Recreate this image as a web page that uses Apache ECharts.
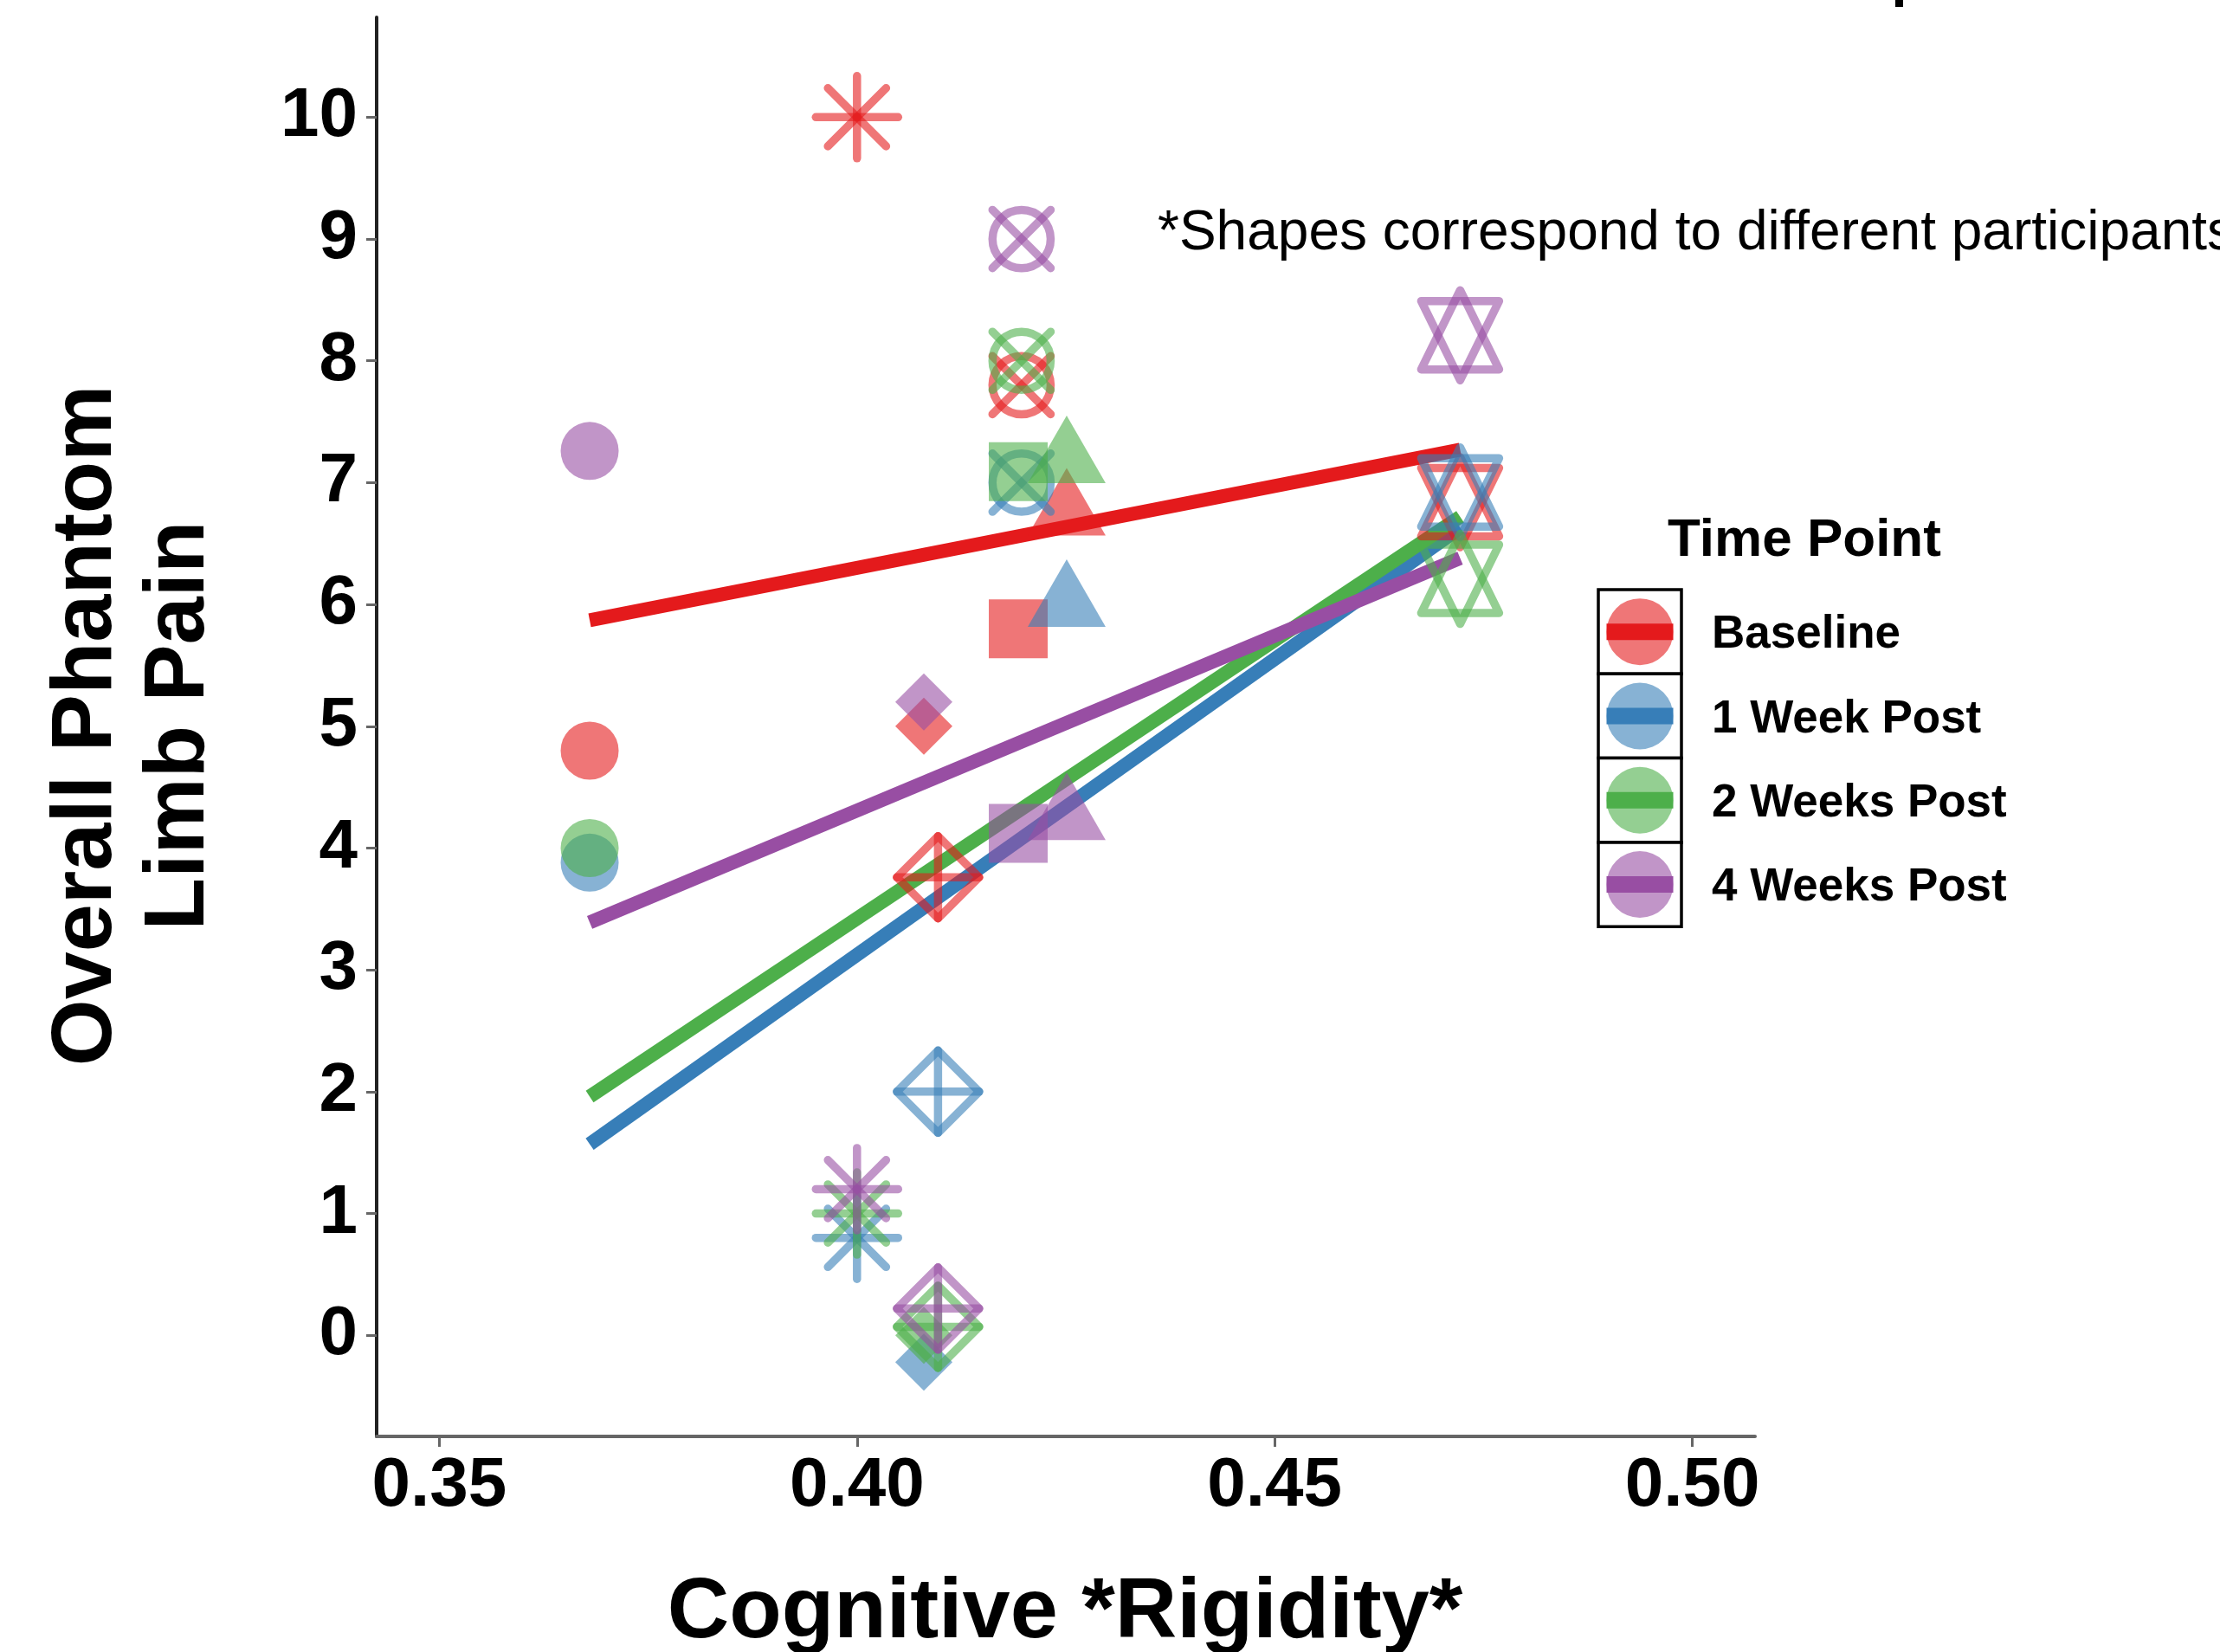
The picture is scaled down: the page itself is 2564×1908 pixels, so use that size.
<!DOCTYPE html>
<html>
<head>
<meta charset="utf-8">
<script src="https://cdn.jsdelivr.net/npm/echarts@6/dist/echarts.min.js"></script>
<style>
html,body{margin:0;padding:0;background:#fff;}
#chart{width:2564px;height:1908px;}
</style>
</head>
<body>
<div id="chart"></div>
<script>
// ---- data ----
const timePoints = ['Baseline', '1 Week Post', '2 Weeks Post', '4 Weeks Post'];
const colors = ['#E41A1C', '#377EB8', '#4DAF4A', '#984EA3'];
// one shape per participant
const participantShapes = ['circle', 'asterisk', 'diamondFilled', 'diamondPlus', 'circleX', 'square', 'triangle', 'star'];
const rigidity = [0.368, 0.400, 0.408, 0.4097, 0.4197, 0.4193, 0.4251, 0.4722];
const painBaseline = [4.80, 10.00, 5.00, 3.76, 7.80, 5.80, 6.75, 6.84];
const painWeek1    = [3.88, 0.80, -0.22, 2.00, 7.00, null, 6.00, 6.92];
const painWeek2    = [4.00, 1.00, 0.00, 0.07, 8.00, 7.09, 7.18, 6.21];
const painWeek4    = [7.26, 1.20, 5.20, 0.22, 9.00, 4.12, 4.25, 8.21];
// fitted (lm) line end points
const fitX = [0.368, 0.4722];
const fitBaseline = [5.87, 7.27];
const fitWeek1    = [1.57, 6.63];
const fitWeek2    = [1.96, 6.72];
const fitWeek4    = [3.39, 6.38];
// axis ticks
const xTicks = [0.35, 0.40, 0.45, 0.50];
const yTicks = [0, 1, 2, 3, 4, 5, 6, 7, 8, 9, 10];

const painSets = [painBaseline, painWeek1, painWeek2, painWeek4];
const fitSets = [fitBaseline, fitWeek1, fitWeek2, fitWeek4];
const FONT = "'Liberation Sans', Arial, Helvetica, sans-serif";

function rgba(hex, a) {
  const n = parseInt(hex.slice(1), 16);
  return 'rgba(' + ((n >> 16) & 255) + ',' + ((n >> 8) & 255) + ',' + (n & 255) + ',' + a + ')';
}

function shapeElements(kind, cx, cy, col) {
  const fill = rgba(col, 0.6);
  const sw = 9.5;
  const strokeStyle = { stroke: fill, lineWidth: sw, lineCap: 'round', lineJoin: 'round', fill: 'none' };
  const line = (x1, y1, x2, y2) => ({ type: 'line', shape: { x1, y1, x2, y2 }, style: Object.assign({}, strokeStyle) });
  const els = [];
  if (kind === 'circle') {
    els.push({ type: 'circle', shape: { cx, cy, r: 33.5 }, style: { fill } });
  } else if (kind === 'square') {
    els.push({ type: 'rect', shape: { x: cx - 34, y: cy - 34, width: 68, height: 68 }, style: { fill } });
  } else if (kind === 'triangle') {
    els.push({ type: 'polygon', shape: { points: [[cx, cy - 52], [cx + 45, cy + 26], [cx - 45, cy + 26]] }, style: { fill } });
  } else if (kind === 'diamondFilled') {
    els.push({ type: 'polygon', shape: { points: [[cx, cy - 33], [cx + 33, cy], [cx, cy + 33], [cx - 33, cy]] }, style: { fill } });
  } else if (kind === 'asterisk') {
    const L = 47.5, d = 33.6;
    els.push(line(cx - L, cy, cx + L, cy));
    els.push(line(cx, cy - L, cx, cy + L));
    els.push(line(cx - d, cy - d, cx + d, cy + d));
    els.push(line(cx - d, cy + d, cx + d, cy - d));
  } else if (kind === 'diamondPlus') {
    const L = 47.5;
    els.push({ type: 'polygon', shape: { points: [[cx, cy - L], [cx + L, cy], [cx, cy + L], [cx - L, cy]] }, style: Object.assign({}, strokeStyle) });
    els.push(line(cx - L, cy, cx + L, cy));
    els.push(line(cx, cy - L, cx, cy + L));
  } else if (kind === 'circleX') {
    const r = 33.6;
    els.push({ type: 'circle', shape: { cx, cy, r }, style: Object.assign({}, strokeStyle) });
    els.push(line(cx - r, cy - r, cx + r, cy + r));
    els.push(line(cx - r, cy + r, cx + r, cy - r));
  } else if (kind === 'star') {
    const a = 52, b = 39.5, w = 45;
    els.push({ type: 'polygon', shape: { points: [[cx, cy - a], [cx + w, cy + b], [cx - w, cy + b]] }, style: Object.assign({}, strokeStyle) });
    els.push({ type: 'polygon', shape: { points: [[cx, cy + a], [cx + w, cy - b], [cx - w, cy - b]] }, style: Object.assign({}, strokeStyle) });
  }
  return els;
}

const series = [];
// fitted lines first (below points)
timePoints.forEach((tp, i) => {
  series.push({
    type: 'line',
    name: tp + ' fit',
    data: fitX.map((x, k) => [x, fitSets[i][k]]),
    symbol: 'none',
    lineStyle: { color: colors[i], width: 16, cap: 'butt' },
    z: 2,
    silent: true,
    animation: false
  });
});
// points
timePoints.forEach((tp, i) => {
  const data = [];
  rigidity.forEach((x, k) => {
    if (painSets[i][k] !== null) data.push([x, painSets[i][k], k]);
  });
  series.push({
    type: 'custom',
    name: tp,
    data: data,
    z: 3,
    silent: true,
    animation: false,
    clip: false,
    renderItem: function (params, api) {
      const p = api.coord([api.value(0), api.value(1)]);
      const kind = participantShapes[api.value(2)];
      return { type: 'group', children: shapeElements(kind, p[0], p[1], colors[i]) };
    }
  });
});

// legend drawn as graphic
const graphics = [];
const keyTop = 681, keyH = 97.3;
graphics.push({
  type: 'text', x: 2084, y: 625,
  style: { text: 'Time Point', font: 'bold 62px ' + FONT, fill: '#000', textAlign: 'center', textVerticalAlign: 'middle' }
});
timePoints.forEach((tp, i) => {
  const cy = keyTop + keyH * i + keyH / 2;
  graphics.push({ type: 'rect', shape: { x: 1846, y: keyTop + keyH * i, width: 96, height: keyH }, style: { fill: '#fff', stroke: '#000', lineWidth: 3.5 }, z: 10 });
  graphics.push({ type: 'circle', shape: { cx: 1894, cy: cy, r: 38.5 }, style: { fill: rgba(colors[i], 0.6) }, z: 11 });
  graphics.push({ type: 'rect', shape: { x: 1855.5, y: cy - 9.5, width: 77, height: 19 }, style: { fill: colors[i] }, z: 12 });
  graphics.push({
    type: 'text', x: 1977, y: cy + 4, z: 12,
    style: { text: tp, font: 'bold 53px ' + FONT, fill: '#000', textAlign: 'left', textVerticalAlign: 'middle' }
  });
});
// annotation
graphics.push({
  type: 'text', x: 1337, y: 270,
  style: { text: '*Shapes correspond to different participants', font: '64px ' + FONT, fill: '#000', textAlign: 'left', textVerticalAlign: 'middle' }
});
// axis titles
graphics.push({
  type: 'text', x: 101, y: 838, rotation: Math.PI / 2,
  style: { text: 'Overall Phantom', font: 'bold 99px ' + FONT, fill: '#000', textAlign: 'center', textVerticalAlign: 'middle' }
});
graphics.push({
  type: 'text', x: 208, y: 838, rotation: Math.PI / 2,
  style: { text: 'Limb Pain', font: 'bold 99px ' + FONT, fill: '#000', textAlign: 'center', textVerticalAlign: 'middle' }
});
graphics.push({
  type: 'text', x: 1230, y: 1864,
  style: { text: 'Cognitive *Rigidity*', font: 'bold 99px ' + FONT, fill: '#000', textAlign: 'center', textVerticalAlign: 'middle' }
});
// clipped fragment of a title at the very top
graphics.push({ type: 'rect', shape: { x: 2189, y: 0, width: 9, height: 8 }, style: { fill: '#000' } });

const chart = echarts.init(document.getElementById('chart'), null, { renderer: 'canvas' });
chart.setOption({
  backgroundColor: '#fff',
  animation: false,
  grid: { left: 435, right: 537, top: 20, bottom: 249, containLabel: false, outerBoundsMode: 'none' },
  xAxis: {
    type: 'value', min: 0.3425, max: 0.5075,
    axisLine: { onZero: false, lineStyle: { color: '#666', width: 4 } },
    axisTick: { show: true, customValues: xTicks, length: 12, lineStyle: { color: '#666', width: 3 } },
    axisLabel: { customValues: xTicks, formatter: v => Number(v).toFixed(2), fontSize: 80, fontWeight: 'bold', fontFamily: FONT, color: '#000', margin: 18 },
    splitLine: { show: false }
  },
  yAxis: {
    type: 'value', min: -0.83, max: 10.82,
    axisLine: { show: true, onZero: false, lineStyle: { color: '#222', width: 4 } },
    axisTick: { show: true, customValues: yTicks, length: 12, lineStyle: { color: '#666', width: 3 } },
    axisLabel: { customValues: yTicks, formatter: v => String(Math.round(v)), fontSize: 80, fontWeight: 'bold', fontFamily: FONT, color: '#000', margin: 22 },
    splitLine: { show: false }
  },
  legend: { show: false },
  tooltip: { show: false },
  series: series,
  graphic: graphics
});
</script>
</body>
</html>
